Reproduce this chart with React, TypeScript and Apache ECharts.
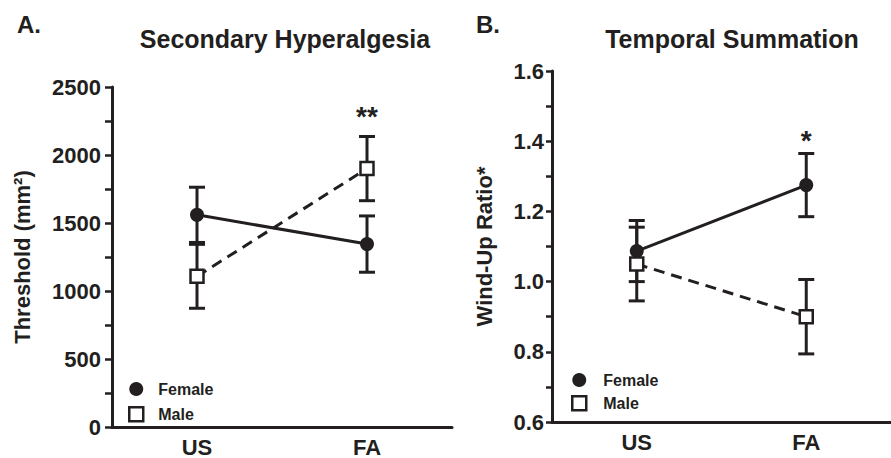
import React, { useEffect, useRef } from 'react';
import * as echarts from 'echarts';

// ---------- data ----------
const categories = ['US', 'FA'];

// Panel A: Secondary Hyperalgesia (threshold, mm²)
const hyperFemale = [1560, 1345];
const hyperFemaleErr = [203, 207];
const hyperMale = [1108, 1900];
const hyperMaleErr = [235, 236];
const hyperSig = ['', '**'];

// Panel B: Temporal Summation (wind-up ratio)
const windFemale = [1.087, 1.275];
const windFemaleErr = [0.087, 0.09];
const windMale = [1.05, 0.9];
const windMaleErr = [0.105, 0.106];
const windSig = ['', '*'];

const INK = '#231f20';
const FONT = 'Liberation Sans, Arial, Helvetica, sans-serif';

function errorSeries(name: string, values: number[], errs: number[], xIdx: number) {
  return {
    type: 'custom',
    name: name + ' SEM',
    xAxisIndex: xIdx,
    yAxisIndex: xIdx,
    z: 2,
    silent: true,
    data: values.map((v, i) => [i, v, errs[i]]),
    renderItem: (params: any, api: any) => {
      const x = api.value(0);
      const v = api.value(1);
      const e = api.value(2);
      const top = api.coord([x, v + e]);
      const bot = api.coord([x, v - e]);
      const half = 8;
      const style = { stroke: INK, lineWidth: 3, fill: 'none' };
      return {
        type: 'group',
        children: [
          { type: 'line', shape: { x1: top[0], y1: top[1], x2: bot[0], y2: bot[1] }, style },
          { type: 'line', shape: { x1: top[0] - half, y1: top[1], x2: top[0] + half, y2: top[1] }, style },
          { type: 'line', shape: { x1: bot[0] - half, y1: bot[1], x2: bot[0] + half, y2: bot[1] }, style },
        ],
      };
    },
  };
}

function sigSeries(sig: string[], tops: number[], xIdx: number, offset: number) {
  return {
    type: 'custom',
    name: 'sig',
    xAxisIndex: xIdx,
    yAxisIndex: xIdx,
    z: 4,
    silent: true,
    data: tops.map((t, i) => [i, t]),
    renderItem: (params: any, api: any) => {
      const p = api.coord([api.value(0), api.value(1)]);
      return {
        type: 'text',
        x: p[0],
        y: p[1] - offset,
        style: {
          text: sig[params.dataIndex],
          fill: INK,
          font: `bold 28px ${FONT}`,
          textAlign: 'center',
          textVerticalAlign: 'middle',
        },
      };
    },
  };
}

function lineSeries(name: string, values: number[], xIdx: number, female: boolean) {
  return {
    type: 'line',
    name,
    xAxisIndex: xIdx,
    yAxisIndex: xIdx,
    z: female ? 3 : 4,
    data: values,
    symbol: female ? 'circle' : 'rect',
    symbolSize: female ? 14 : 13,
    itemStyle: female
      ? { color: INK, borderColor: INK, borderWidth: 0 }
      : { color: '#ffffff', borderColor: INK, borderWidth: 2.5 },
    lineStyle: { color: INK, width: 3, type: female ? 'solid' : [11, 7] },
  };
}

const axisText = { color: INK, fontFamily: FONT, fontWeight: 'bold' as const, fontSize: 22 };

function legend(left: number, top: number, gap: number, textGap: number) {
  return {
    left,
    top,
    padding: 0,
    orient: 'vertical',
    selectedMode: false,
    itemWidth: 14,
    itemHeight: 14,
    itemGap: gap,
    formatter: '{a|{name}}',
    textStyle: {
      rich: {
        a: { color: INK, fontFamily: FONT, fontWeight: 'bold', fontSize: 16, padding: [0, 0, 0, textGap] },
      },
    },
    data: [
      { name: 'Female', icon: 'circle', itemStyle: { color: INK, borderWidth: 0 } },
      { name: 'Male', icon: 'rect', itemStyle: { color: '#ffffff', borderColor: INK, borderWidth: 2.5 } },
    ],
  };
}

export default function App() {
  const ref = useRef<HTMLDivElement>(null);

  useEffect(() => {
    if (!ref.current) return;
    const chart = echarts.init(ref.current, undefined, { renderer: 'svg' });

    const hyperTops = categories.map((_, i) =>
      Math.max(hyperFemale[i] + hyperFemaleErr[i], hyperMale[i] + hyperMaleErr[i])
    );
    const windTops = categories.map((_, i) =>
      Math.max(windFemale[i] + windFemaleErr[i], windMale[i] + windMaleErr[i])
    );

    const titleStyle = { color: INK, fontFamily: FONT, fontWeight: 'bold' as const, fontSize: 25 };
    const panelStyle = { color: INK, fontFamily: FONT, fontWeight: 'bold' as const, fontSize: 24 };

    chart.setOption({
      animation: false,
      backgroundColor: '#ffffff',
      title: [
        { text: 'A.', left: 12, top: 7, textStyle: panelStyle },
        { text: 'B.', left: 471, top: 7, textStyle: panelStyle },
        { text: 'Secondary Hyperalgesia', left: 280, top: 21, textAlign: 'center', textStyle: titleStyle },
        { text: 'Temporal Summation', left: 727, top: 21, textAlign: 'center', textStyle: titleStyle },
      ],
      legend: [legend(128, 381, 9, 10), legend(571, 372, 7, 12)],
      grid: [
        { left: 112, top: 87, right: 439, bottom: 31 },
        { left: 552, top: 71, right: -13, bottom: 36 },
      ],
      xAxis: [0, 1].map((g) => ({
        type: 'category',
        gridIndex: g,
        data: categories,
        boundaryGap: true,
        axisLine: { lineStyle: { color: INK, width: 3 } },
        axisTick: { alignWithLabel: true, length: 7, lineStyle: { color: INK, width: 2.5 } },
        axisLabel: { ...axisText, margin: 9 },
        splitLine: { show: false },
      })),
      yAxis: [
        {
          type: 'value',
          gridIndex: 0,
          min: 0,
          max: 2500,
          interval: 250,
          name: 'Threshold (mm²)',
          nameLocation: 'middle',
          nameGap: 79,
          nameTextStyle: { ...axisText },
          axisLine: { show: true, lineStyle: { color: INK, width: 3 } },
          axisTick: { show: true, length: 7, lineStyle: { color: INK, width: 2.5 } },
          axisLabel: {
            ...axisText,
            margin: 11,
            formatter: (v: number) => (Math.round(v) % 500 === 0 ? String(Math.round(v)) : ''),
          },
          splitLine: { show: false },
        },
        {
          type: 'value',
          gridIndex: 1,
          min: 0.6,
          max: 1.6,
          interval: 0.1,
          name: 'Wind-Up Ratio*',
          nameLocation: 'middle',
          nameGap: 57,
          nameTextStyle: { ...axisText },
          axisLine: { show: true, lineStyle: { color: INK, width: 3 } },
          axisTick: { show: true, length: 6, lineStyle: { color: INK, width: 2.5 } },
          axisLabel: {
            ...axisText,
            margin: 8,
            formatter: (v: number) => (Math.round(v * 10) % 2 === 0 ? v.toFixed(1) : ''),
          },
          splitLine: { show: false },
        },
      ],
      series: [
        errorSeries('Female', hyperFemale, hyperFemaleErr, 0),
        errorSeries('Male', hyperMale, hyperMaleErr, 0),
        lineSeries('Female', hyperFemale, 0, true),
        lineSeries('Male', hyperMale, 0, false),
        sigSeries(hyperSig, hyperTops, 0, 20),
        errorSeries('Female', windFemale, windFemaleErr, 1),
        errorSeries('Male', windMale, windMaleErr, 1),
        lineSeries('Female', windFemale, 1, true),
        lineSeries('Male', windMale, 1, false),
        sigSeries(windSig, windTops, 1, 13),
      ],
    });

    return () => chart.dispose();
  }, []);

  return (
    <div
      ref={ref}
      style={{ position: 'fixed', left: 0, top: 0, width: 891, height: 458, background: '#fff', overflow: 'hidden' }}
    />
  );
}
